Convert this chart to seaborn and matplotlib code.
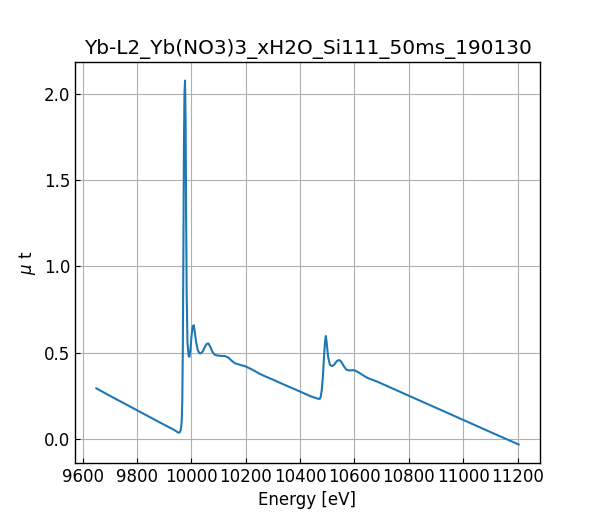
import matplotlib
matplotlib.use("Agg")
import matplotlib.pyplot as plt
import seaborn as sns
import pandas as pd

## values (energy in eV, mu t)
energy = [9650, 9700, 9750, 9800, 9850, 9900, 9930, 9945, 9952, 9958, 9962,
          9965, 9967, 9969, 9971, 9973, 9975, 9977, 9979, 9981, 9983, 9986,
          9990, 9993, 9997, 10001, 10005, 10009, 10013, 10018, 10024, 10030,
          10036, 10043, 10050, 10057, 10063, 10070, 10078, 10086, 10095,
          10110, 10124, 10136, 10148, 10160, 10180, 10197, 10215, 10230,
          10250, 10270, 10300, 10350, 10400, 10440, 10465, 10472, 10476,
          10480, 10484, 10488, 10492, 10495, 10498, 10503, 10510, 10518,
          10526, 10534, 10542, 10548, 10555, 10563, 10571, 10580, 10598,
          10612, 10625, 10640, 10652, 10666, 10680, 10750, 10800, 10900,
          11000, 11100, 11205]
mu_t = [0.295, 0.252, 0.210, 0.168, 0.126, 0.084, 0.060, 0.046, 0.038, 0.040, 0.060,
        0.110, 0.230, 0.550, 1.100, 1.700, 2.000, 2.075, 1.850, 1.300, 0.850, 0.560,
        0.485, 0.477, 0.520, 0.600, 0.650, 0.660, 0.620, 0.560, 0.515, 0.498,
        0.497, 0.510, 0.535, 0.552, 0.554, 0.535, 0.505, 0.489, 0.485,
        0.482, 0.481, 0.473, 0.455, 0.440, 0.430, 0.423, 0.410, 0.398,
        0.380, 0.365, 0.345, 0.310, 0.276, 0.248, 0.235, 0.233, 0.245,
        0.285, 0.360, 0.470, 0.565, 0.597, 0.560, 0.480, 0.430, 0.423,
        0.432, 0.450, 0.458, 0.455, 0.440, 0.418, 0.402, 0.398, 0.400,
        0.390, 0.377, 0.362, 0.352, 0.344, 0.336, 0.287, 0.252, 0.182,
        0.112, 0.042, -0.031]

title = "Yb-L2_Yb(NO3)3_xH2O_Si111_50ms_190130"

df = pd.DataFrame({"Energy [eV]": energy, "mu t": mu_t})

sns.set_style("ticks")
plt.rcParams["font.family"] = ["DejaVu Sans"]
plt.rcParams["text.color"] = "black"
plt.rcParams["axes.labelcolor"] = "black"
plt.rcParams["xtick.color"] = "black"
plt.rcParams["ytick.color"] = "black"

fig, ax = plt.subplots(figsize=(6, 5.2), dpi=100)
fig.subplots_adjust(left=0.125, right=0.9, bottom=0.11, top=0.88)

sns.lineplot(data=df, x="Energy [eV]", y="mu t", ax=ax, color="#1f77b4", linewidth=1.5)

ax.set_xticks([9600, 9800, 10000, 10200, 10400, 10600, 10800, 11000, 11200])
ax.set_yticks([0.0, 0.5, 1.0, 1.5, 2.0])
ax.grid(True, color="#b0b0b0", linewidth=0.8)
ax.tick_params(direction="in", labelsize=12, colors="black", length=3.5)
for s in ax.spines.values():
    s.set_color("black")
    s.set_linewidth(1.0)

ax.set_xlabel("Energy [eV]", fontsize=12, color="black")
ax.set_ylabel(r"$\mu$ t", fontsize=12, color="black")
ax.set_title(title, fontsize=14.4, color="black")

fig.savefig("out.png", dpi=100)
